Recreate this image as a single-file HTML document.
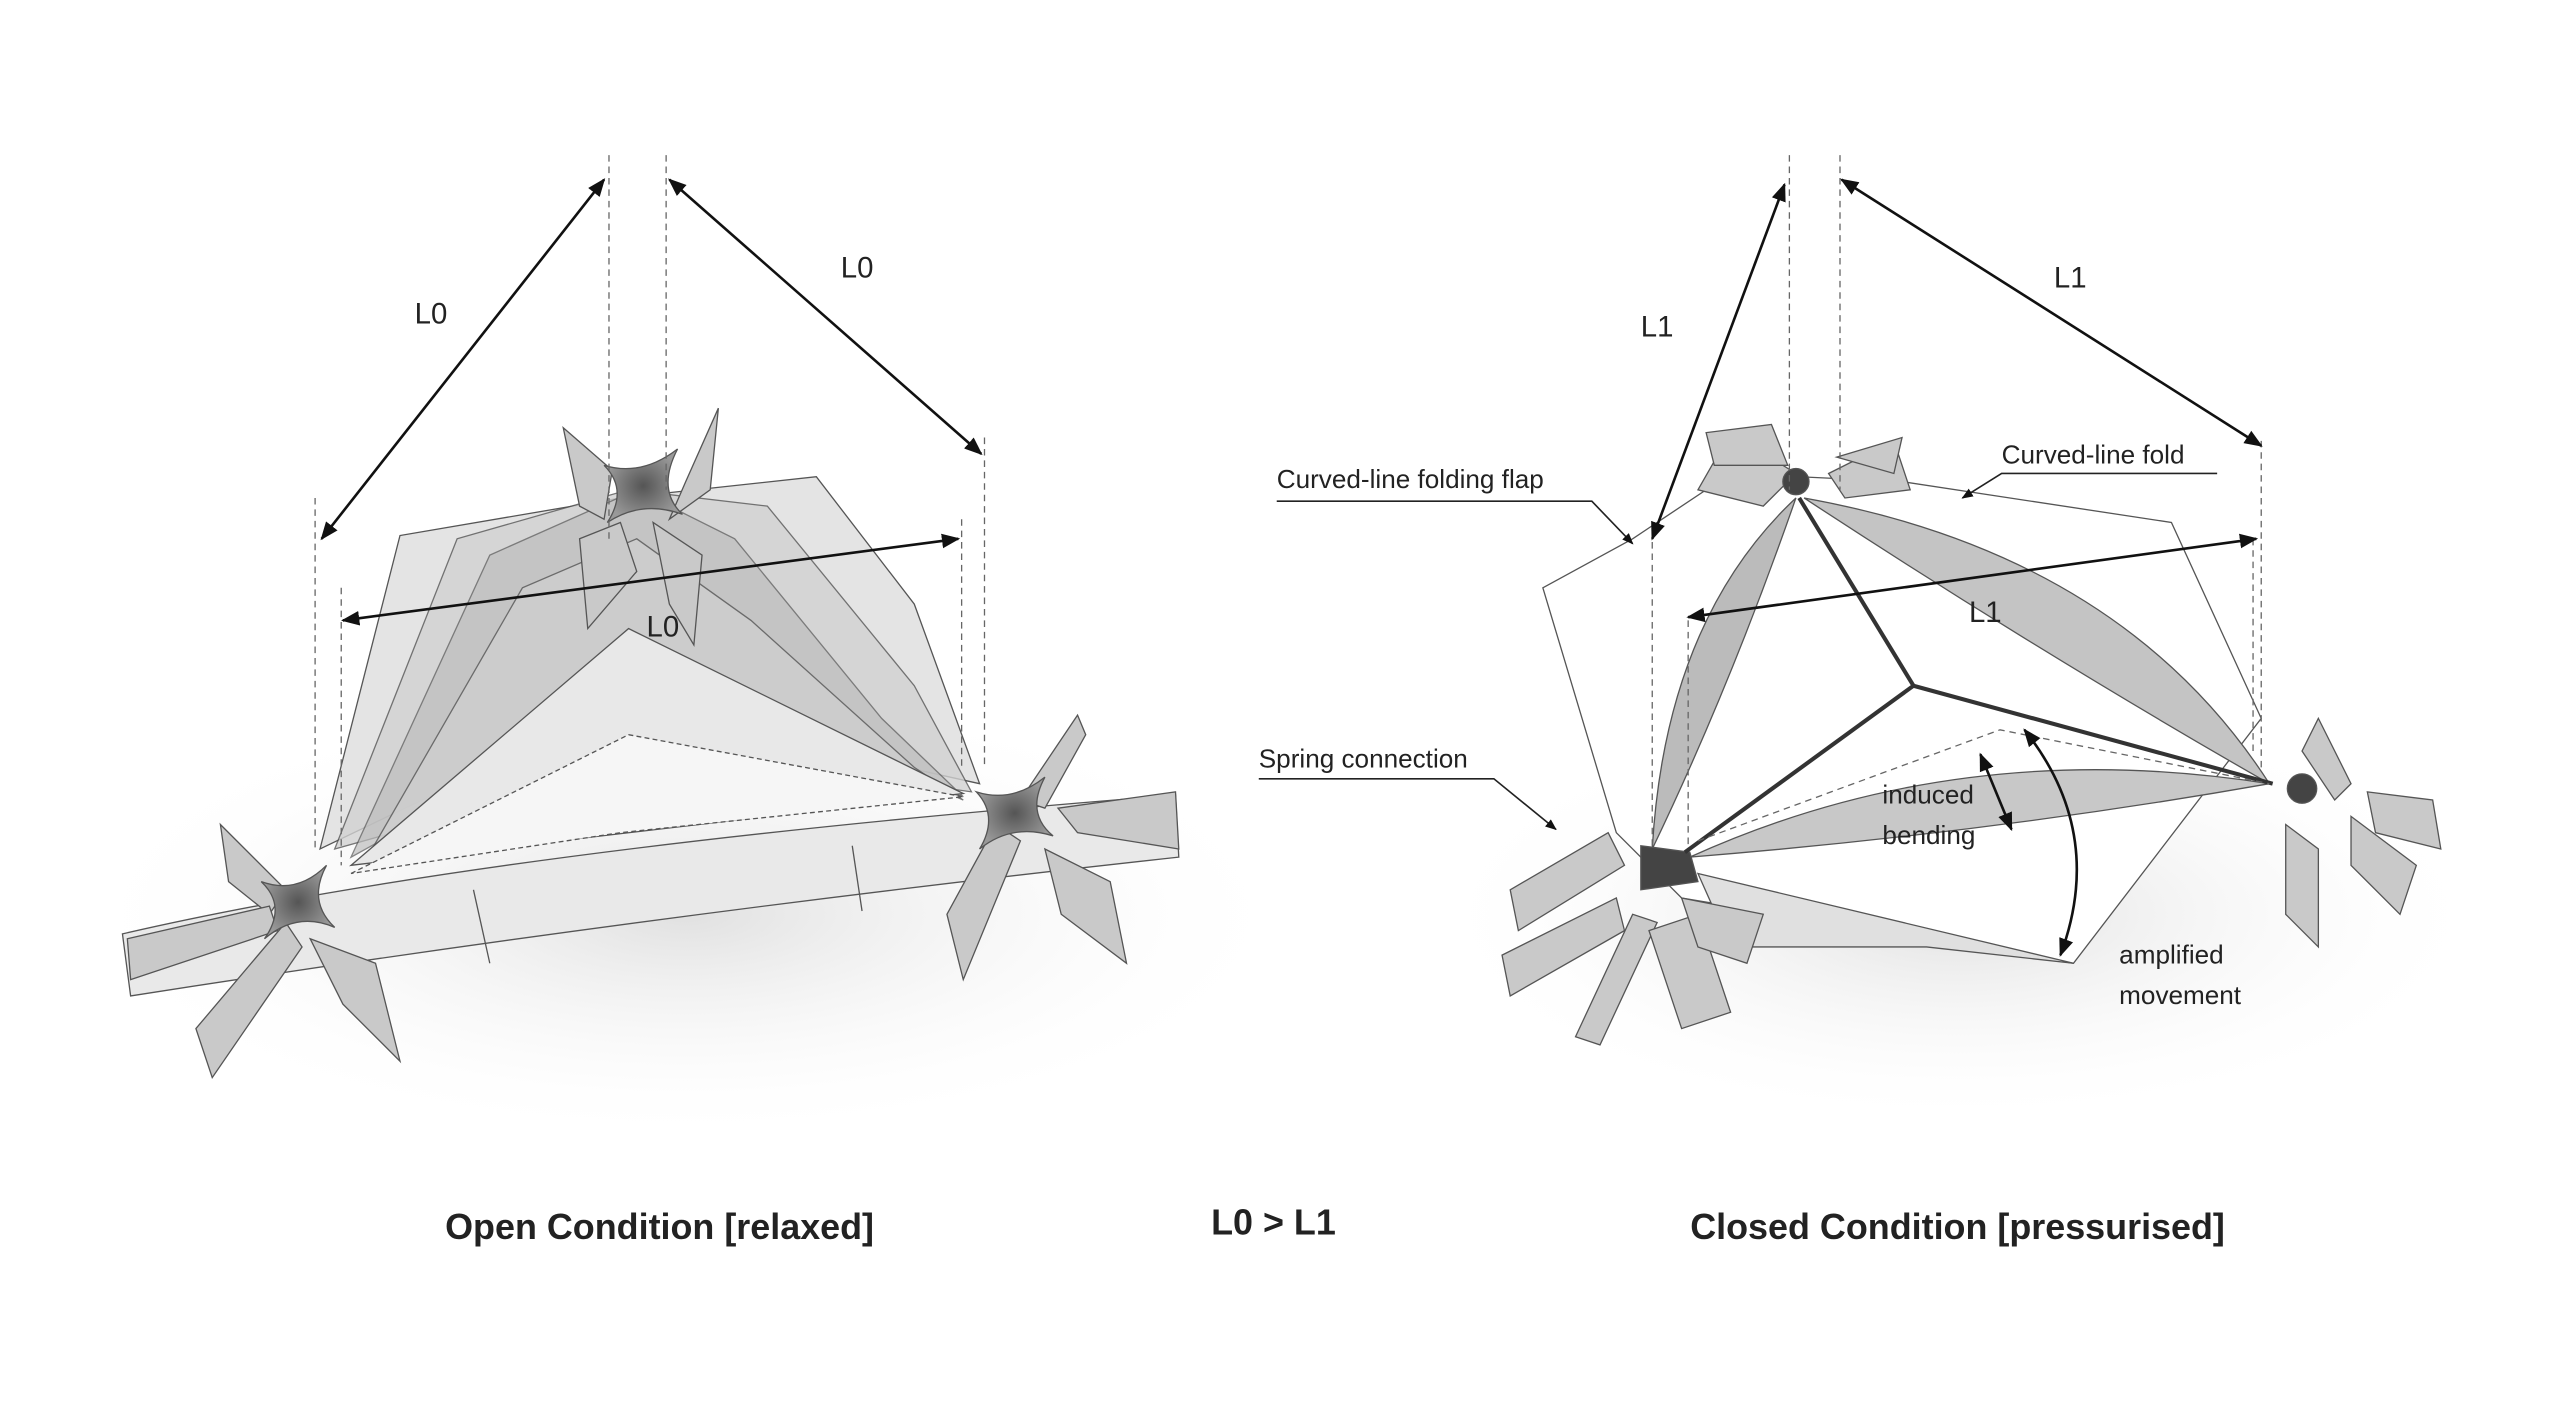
<!DOCTYPE html>
<html><head><meta charset="utf-8"><style>
html,body{margin:0;padding:0;background:#fff;}
svg{display:block;}
text{font-family:"Liberation Sans",sans-serif;fill:#222;}
</style></head><body>
<svg width="2560" height="1409" viewBox="0 0 1568 863" xmlns="http://www.w3.org/2000/svg">
<defs>
<marker id="a" viewBox="0 0 10 10" refX="9" refY="5" markerWidth="7" markerHeight="7" orient="auto-start-reverse"><path d="M0,1 L10,5 L0,9 z" fill="#111"/></marker>
<radialGradient id="sh" cx="0.5" cy="0.5" r="0.5"><stop offset="0" stop-color="#ccc" stop-opacity="0.6"/><stop offset="1" stop-color="#fff" stop-opacity="0"/></radialGradient>
<radialGradient id="nd" cx="0.5" cy="0.5" r="0.5"><stop offset="0" stop-color="#555"/><stop offset="1" stop-color="#999"/></radialGradient>
</defs>
<rect width="1568" height="863" fill="#fff"/>
<ellipse cx="420" cy="560" rx="380" ry="140" fill="url(#sh)"/>
<ellipse cx="1200" cy="560" rx="330" ry="130" fill="url(#sh)"/>

<!-- LEFT DIAGRAM -->
<g stroke="#555" stroke-width="0.8">
<polygon points="196,520 245,328 380,305 500,292 560,370 600,480 420,440 300,470" fill="#e4e4e4"/>
<polygon points="205,520 280,330 385,300 470,310 560,420 595,485 420,460" fill="#d2d2d2" opacity="0.8"/>
<polygon points="215,525 300,340 390,300 450,330 540,440 590,488 390,420 260,500" fill="#bdbdbd" opacity="0.7"/>
<polygon points="225,525 320,360 390,330 460,380 560,470 590,490 385,400" fill="#cfcfcf" opacity="0.8"/>
<polygon points="215,530 385,385 590,486" fill="#e8e8e8"/>
<polygon points="215,535 385,450 590,488 380,510" fill="#f6f6f6" stroke-dasharray="3,2"/>
<path d="M75,572 Q300,520 720,487 L722,525 Q400,560 80,610 Z" fill="#e9e9e9"/>
<path d="M290,545 L300,590" fill="none"/><path d="M522,518 L528,558" fill="none"/>
<g fill="#c9c9c9">
<polygon points="345,262 375,288 370,318 355,310"/><polygon points="440,250 420,295 410,318 435,300"/>
<polygon points="355,330 380,320 390,350 360,385"/><polygon points="400,320 430,340 425,395 410,370"/>
<polygon points="135,505 175,545 165,560 140,540"/><polygon points="120,630 175,565 185,580 130,660"/>
<polygon points="190,575 230,590 245,650 210,615"/><polygon points="660,438 625,490 640,495 665,450"/>
<polygon points="580,560 610,505 625,515 590,600"/><polygon points="640,520 680,540 690,590 650,560"/>
<polygon points="648,495 720,485 722,520 660,510"/>
<polygon points="78,575 165,555 170,570 80,600"/>
</g>
<g fill="url(#nd)">
<path d="M160,540 Q182,548 200,530 Q188,552 205,568 Q182,558 162,575 Q176,555 160,540 Z"/>
<path d="M598,485 Q620,492 640,476 Q628,498 645,512 Q620,504 600,520 Q612,500 598,485 Z"/>
<path d="M370,285 Q393,292 415,275 Q402,300 418,315 Q393,306 372,320 Q385,300 370,285 Z"/>
</g>
</g>
<g stroke="#666" stroke-width="0.8" stroke-dasharray="4,3">
<line x1="373" y1="95" x2="373" y2="330"/><line x1="408" y1="95" x2="408" y2="300"/>
<line x1="193" y1="305" x2="193" y2="520"/><line x1="209" y1="360" x2="209" y2="530"/>
<line x1="603" y1="268" x2="603" y2="470"/><line x1="589" y1="318" x2="589" y2="470"/>
</g>
<g stroke="#111" stroke-width="1.6" marker-start="url(#a)" marker-end="url(#a)">
<line x1="197" y1="330" x2="370" y2="110"/><line x1="410" y1="110" x2="601" y2="278"/><line x1="210" y1="380" x2="587" y2="330"/>
</g>
<g font-size="18" fill="#333"><text x="254" y="198">L0</text><text x="515" y="170">L0</text><text x="396" y="390">L0</text></g>

<!-- RIGHT DIAGRAM -->
<g stroke="#555" stroke-width="0.8">
<polygon points="945,360 1000,330 1060,290 1165,295 1330,320 1385,440 1270,590 1030,550 990,510" fill="#fff"/>
<path d="M1100,305 Q1020,380 1012,520 Q1060,420 1100,305 Z" fill="#bbb"/>
<path d="M1105,305 Q1300,340 1390,480 Q1250,400 1105,305 Z" fill="#c4c4c4"/>
<path d="M1035,525 Q1200,450 1390,480 Q1220,510 1035,525 Z" fill="#c8c8c8"/>
<polygon points="1040,535 1270,590 1180,580 1060,580" fill="#e0e0e0"/>
<g fill="#c9c9c9">
<polygon points="1040,300 1060,265 1100,290 1080,310"/><polygon points="1120,290 1160,270 1170,300 1130,305"/>
<polygon points="1050,285 1045,265 1085,260 1095,285"/><polygon points="1125,280 1165,268 1160,290"/>
<polygon points="925,545 985,510 995,530 930,570"/><polygon points="920,585 990,550 995,570 925,610"/>
<polygon points="965,635 1000,560 1015,565 980,640"/><polygon points="1010,570 1040,560 1060,620 1030,630"/>
<polygon points="1030,550 1080,560 1070,590 1040,580"/>
<polygon points="1420,440 1440,480 1430,490 1410,460"/><polygon points="1450,485 1490,490 1495,520 1455,510"/>
<polygon points="1440,500 1480,530 1470,560 1440,530"/><polygon points="1400,505 1420,520 1420,580 1400,560"/>
</g>
<g fill="#444"><polygon points="1005,518 1035,522 1040,540 1005,545"/><circle cx="1410" cy="483" r="9"/><circle cx="1100" cy="295" r="8"/></g>
</g>
<g stroke="#333" stroke-width="2.5" fill="none">
<line x1="1172" y1="420" x2="1102" y2="305"/><line x1="1172" y1="420" x2="1032" y2="522"/><line x1="1172" y1="420" x2="1392" y2="480"/>
</g>
<g stroke="#666" stroke-width="0.8" stroke-dasharray="4,3" fill="none">
<line x1="1096" y1="95" x2="1096" y2="300"/><line x1="1127" y1="95" x2="1127" y2="300"/>
<line x1="1012" y1="325" x2="1012" y2="520"/><line x1="1034" y1="380" x2="1034" y2="520"/>
<line x1="1385" y1="270" x2="1385" y2="470"/><line x1="1380" y1="330" x2="1380" y2="460"/>
<polyline points="1040,515 1225,447 1390,480"/>
</g>
<g stroke="#111" stroke-width="1.6" marker-start="url(#a)" marker-end="url(#a)" fill="none">
<line x1="1012" y1="330" x2="1093" y2="113"/><line x1="1128" y1="110" x2="1385" y2="273"/><line x1="1034" y1="378" x2="1382" y2="330"/>
<line x1="1213" y1="462" x2="1232" y2="508"/>
<path d="M1240,447 Q1290,510 1262,585"/>
</g>
<g stroke="#222" stroke-width="1" fill="none">
<polyline points="782,307 975,307 1000,333" marker-end="url(#a)"/>
<polyline points="1358,290 1226,290 1202,305" marker-end="url(#a)"/>
<polyline points="771,477 915,477 953,508" marker-end="url(#a)"/>
</g>
<g font-size="16" fill="#333">
<text x="782" y="299">Curved-line folding flap</text>
<text x="1226" y="284">Curved-line fold</text>
<text x="771" y="470">Spring connection</text>
<text x="1153" y="492">induced</text><text x="1153" y="517">bending</text>
<text x="1298" y="590">amplified</text><text x="1298" y="615">movement</text>
</g>
<g font-size="18" fill="#333"><text x="1005" y="206">L1</text><text x="1258" y="176">L1</text><text x="1206" y="381">L1</text></g>

<g font-size="22" font-weight="bold" fill="#111" text-anchor="middle">
<text x="404" y="759">Open Condition [relaxed]</text>
<text x="780" y="756">L0 &gt; L1</text>
<text x="1199" y="759">Closed Condition [pressurised]</text>
</g>
</svg>
</body></html>
